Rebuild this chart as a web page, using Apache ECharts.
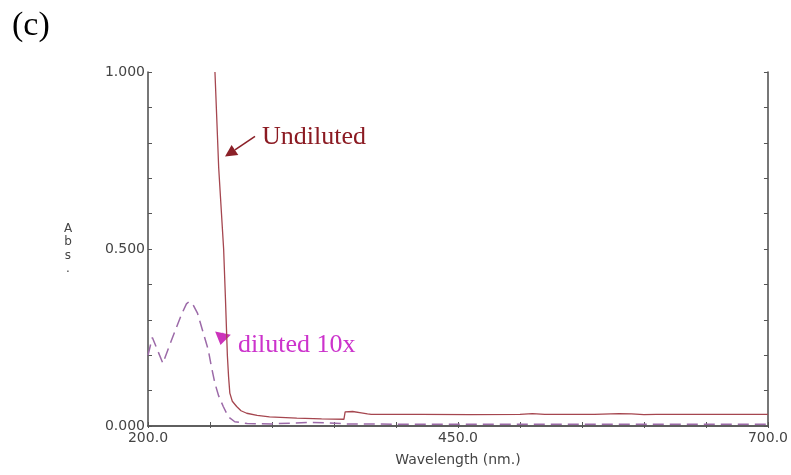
<!DOCTYPE html>
<html>
<head>
<meta charset="utf-8">
<script src="https://cdn.jsdelivr.net/npm/echarts@6/dist/echarts.min.js"></script>
<style>html,body{margin:0;padding:0;background:#fff}#c{width:791px;height:475px}</style>
</head>
<body>
<div id="c"></div>
<script>
// Wavelength (nm) and absorbance values
var undilutedX = [254, 257, 261, 262.5, 264, 265, 266, 268, 271.5, 275, 279.6, 288, 298, 320, 340, 358, 359, 365, 372, 377, 380, 420, 460, 500, 510, 520, 560, 580, 590, 600, 610, 650, 700];
var undilutedY = [1.0, 0.73, 0.5, 0.356, 0.2, 0.138, 0.093, 0.07, 0.055, 0.043, 0.036, 0.03, 0.026, 0.022, 0.02, 0.019, 0.04, 0.041, 0.037, 0.034, 0.033, 0.033, 0.032, 0.033, 0.035, 0.033, 0.033, 0.035, 0.034, 0.032, 0.033, 0.033, 0.033];
var dilutedX = [200, 203.5, 207, 212, 216, 222, 227, 231, 233, 236, 240, 244, 248.6, 251, 254, 257, 260.7, 264.8, 270, 280, 300, 330, 345, 360, 400, 450, 500, 550, 600, 650, 700];
var dilutedY = [0.20, 0.25, 0.22, 0.177, 0.215, 0.27, 0.315, 0.345, 0.351, 0.345, 0.318, 0.27, 0.215, 0.17, 0.12, 0.085, 0.055, 0.026, 0.012, 0.007, 0.006, 0.01, 0.009, 0.006, 0.005, 0.005, 0.005, 0.005, 0.005, 0.005, 0.005];
var xTickLabels = [200, 450, 700];
var yTickLabels = [0, 0.5, 1.0];
var seriesNames = ['Undiluted', 'diluted 10x'];

function pairs(xs, ys) { return xs.map(function (x, i) { return [x, ys[i]]; }); }

var chart = echarts.init(document.getElementById('c'));
var axisCol = '#555555';
var labelFont = { fontFamily: 'DejaVu Sans', fontSize: 14, color: '#444' };

function arrowRender(color, width, headLen, headHalf) {
  return function (params, api) {
    var p1 = api.coord([api.value(0), api.value(1)]);
    var p2 = api.coord([api.value(2), api.value(3)]);
    var dx = p2[0] - p1[0], dy = p2[1] - p1[1];
    var len = Math.sqrt(dx * dx + dy * dy) || 1;
    var ux = dx / len, uy = dy / len;
    var bx = p2[0] - ux * headLen, by = p2[1] - uy * headLen;
    var nx = -uy, ny = ux;
    var kids = [];
    if (len > headLen) {
      kids.push({ type: 'line', shape: { x1: p1[0], y1: p1[1], x2: bx, y2: by }, style: { stroke: color, lineWidth: width } });
    }
    kids.push({ type: 'polygon', shape: { points: [[p2[0], p2[1]], [bx + nx * headHalf, by + ny * headHalf], [bx - nx * headHalf, by - ny * headHalf]] }, style: { fill: color } });
    return { type: 'group', children: kids };
  };
}

chart.setOption({
  animation: false,
  backgroundColor: '#ffffff',
  grid: { left: 148, right: 23, top: 72, bottom: 49 },
  graphic: [
    { type: 'text', left: 12, top: 9, style: { text: '(c)', font: '34px "Liberation Serif"', fill: '#000' } }
  ],
  xAxis: [
    {
      type: 'value', min: 200, max: 700, interval: 50,
      name: 'Wavelength (nm.)', nameLocation: 'middle', nameGap: 27,
      nameTextStyle: labelFont,
      axisLine: { show: true, lineStyle: { color: axisCol, width: 1.6 } },
      axisTick: { show: true, inside: true, length: 4, lineStyle: { color: axisCol } },
      splitLine: { show: false },
      axisLabel: Object.assign({ margin: 5, formatter: function (v) { return xTickLabels.indexOf(v) >= 0 ? v.toFixed(1) : ''; } }, labelFont)
    },
    {
      type: 'value', min: 200, max: 700, interval: 50, position: 'top',
      axisLine: { show: true, lineStyle: { color: axisCol, width: 1.6 } },
      axisTick: { show: true, inside: true, length: 2, lineStyle: { color: axisCol } },
      splitLine: { show: false }, axisLabel: { show: false }
    }
  ],
  yAxis: [
    {
      type: 'value', min: 0, max: 1, interval: 0.1,
      name: 'A\nb\ns\n.', nameLocation: 'middle', nameRotate: 0, nameGap: 80,
      nameTextStyle: Object.assign({}, labelFont, { fontSize: 12, lineHeight: 13.5, align: 'center' }),
      axisLine: { show: true, lineStyle: { color: axisCol, width: 1.6 } },
      axisTick: { show: true, inside: true, length: 4, lineStyle: { color: axisCol } },
      splitLine: { show: false },
      axisLabel: Object.assign({ margin: 3, formatter: function (v) {
        for (var i = 0; i < yTickLabels.length; i++) { if (Math.abs(v - yTickLabels[i]) < 1e-6) return v.toFixed(3); }
        return '';
      } }, labelFont)
    },
    {
      type: 'value', min: 0, max: 1, interval: 0.1, position: 'right',
      axisLine: { show: true, lineStyle: { color: axisCol, width: 1.6 } },
      axisTick: { show: true, inside: true, length: 4, lineStyle: { color: axisCol } },
      splitLine: { show: false }, axisLabel: { show: false }
    }
  ],
  series: [
    {
      name: seriesNames[0], type: 'line', data: pairs(undilutedX, undilutedY),
      showSymbol: false, symbol: 'none', smooth: false, clip: true,
      lineStyle: { color: '#a5464f', width: 1.3 },
      markPoint: {
        silent: true, symbol: 'circle', symbolSize: 0,
        data: [{ coord: [291.9, 0.815], value: seriesNames[0] }],
        label: { show: true, position: 'right', distance: 0, formatter: seriesNames[0], fontFamily: 'Liberation Serif', fontSize: 26, color: '#8b1a22' }
      }
    },
    {
      name: seriesNames[1], type: 'line', data: pairs(dilutedX, dilutedY),
      showSymbol: false, symbol: 'none', smooth: false,
      lineStyle: { color: '#9c6aa8', width: 1.5, type: [11, 6] },
      markPoint: {
        silent: true, symbol: 'circle', symbolSize: 0,
        data: [{ coord: [272.5, 0.228], value: seriesNames[1] }],
        label: { show: true, position: 'right', distance: 0, formatter: seriesNames[1], fontFamily: 'Liberation Serif', fontSize: 26, color: '#cc33cc' }
      }
    },
    {
      type: 'custom', silent: true, xAxisIndex: 0, yAxisIndex: 0,
      renderItem: arrowRender('#8b2028', 1.6, 12, 6),
      data: [[286.3, 0.818, 262.1, 0.761]]
    },
    {
      type: 'custom', silent: true, xAxisIndex: 0, yAxisIndex: 0,
      renderItem: arrowRender('#cc33bb', 2, 12, 8),
      data: [[260.5, 0.263, 258.5, 0.229]]
    }
  ]
});
</script>
</body>
</html>
